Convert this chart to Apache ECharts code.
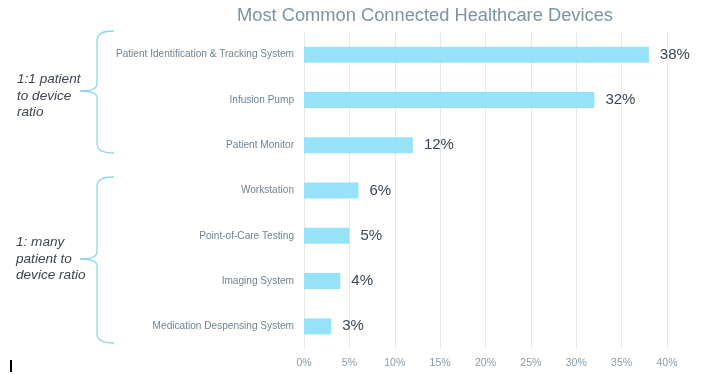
<!DOCTYPE html>
<html><head><meta charset="utf-8">
<script src="https://cdn.jsdelivr.net/npm/echarts@6/dist/echarts.min.js"></script>
<style>html,body{margin:0;padding:0;background:#fff}#c{width:704px;height:374px}</style>
</head><body><div id="c"></div>
<script>
const categories = ["Patient Identification & Tracking System","Infusion Pump","Patient Monitor","Workstation","Point-of-Care Testing","Imaging System","Medication Despensing System"];
const values = [38,32,12,6,5,4,3];
const groupLabels = ["1:1 patient\nto device\nratio","1: many\npatient to\ndevice ratio"];
const titleText = "Most Common Connected Healthcare Devices";

const braceColor = '#8fd6ee';
function brace(top, mid, bottom){
  const xe = 114, xv = 97, xt = 80, r = 9, st = {stroke:braceColor,lineWidth:1.3,fill:null};
  return [
    {type:'bezierCurve',shape:{x1:xe,y1:top,cpx1:xv,cpy1:top,x2:xv,y2:top+r},style:st},
    {type:'line',shape:{x1:xv,y1:top+r,x2:xv,y2:mid-7},style:st},
    {type:'bezierCurve',shape:{x1:xv,y1:mid-7,cpx1:xv,cpy1:mid,x2:xt,y2:mid},style:st},
    {type:'bezierCurve',shape:{x1:xt,y1:mid,cpx1:xv,cpy1:mid,x2:xv,y2:mid+7},style:st},
    {type:'line',shape:{x1:xv,y1:mid+7,x2:xv,y2:bottom-r},style:st},
    {type:'bezierCurve',shape:{x1:xv,y1:bottom-r,cpx1:xv,cpy1:bottom,x2:xe,y2:bottom},style:st}
  ];
}

const chart = echarts.init(document.getElementById('c'));
chart.setOption({
  animation:false,
  title:{text:titleText,left:232,top:2,textStyle:{fontFamily:'Liberation Sans, Arial',fontSize:18.3,fontWeight:'normal',color:'#7c94a2'}},
  grid:{left:304,right:37,top:32,bottom:25,containLabel:false},
  xAxis:{type:'value',min:0,max:40,interval:5,
    axisLabel:{formatter:'{value}%',color:'#8a9ba6',fontSize:10.5,fontFamily:'Liberation Sans, Arial',margin:9},
    axisLine:{show:false},axisTick:{show:false},
    splitLine:{lineStyle:{color:'#e3e9ee',width:1}}},
  yAxis:{type:'category',inverse:true,data:categories,
    axisLabel:{color:'#6f8593',fontSize:10.1,fontFamily:'Liberation Sans, Arial',margin:10},
    axisLine:{show:true,lineStyle:{color:'#e3e9ee'}},axisTick:{show:false}},
  series:[{type:'bar',data:values,barWidth:16,itemStyle:{color:'#96e2f8'},
    label:{show:true,position:'right',distance:11,formatter:'{c}%',color:'#394756',fontSize:15,fontFamily:'Liberation Sans, Arial'}}],
  graphic:[].concat(
    brace(31,91,153),
    brace(177,259,343),
    [
    {type:'text',left:17,top:71,style:{text:groupLabels[0],font:'italic 13.6px Liberation Sans, Arial',fill:'#3e4550',lineHeight:16.5}},
    {type:'text',left:16,top:234,style:{text:groupLabels[1],font:'italic 13.6px Liberation Sans, Arial',fill:'#3e4550',lineHeight:16.5}},
    {type:'rect',shape:{x:10,y:360,width:2,height:12},style:{fill:'#000'}}
    ])
});
</script></body></html>
